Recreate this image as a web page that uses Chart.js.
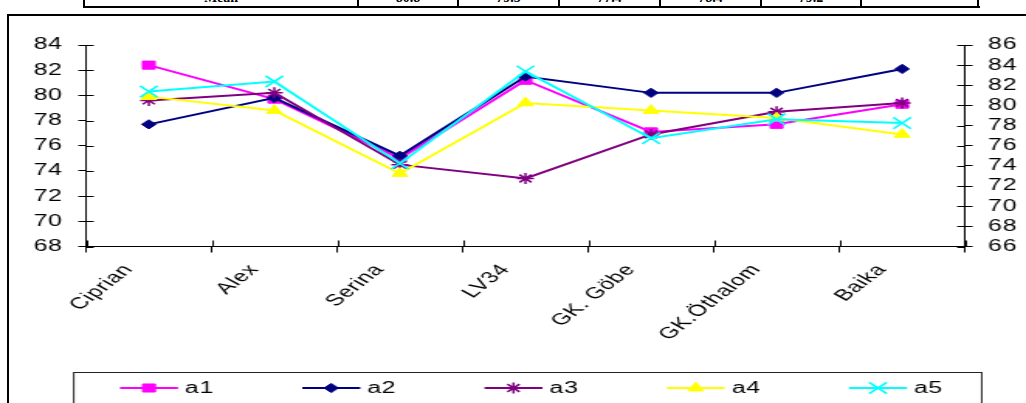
<!DOCTYPE html>
<html>
<head>
<meta charset="utf-8">
<script src="https://cdn.jsdelivr.net/npm/chart.js@4/dist/chart.umd.min.js"></script>
<style>
  html, body { margin: 0; padding: 0; background: #fff; width: 1026px; height: 403px; overflow: hidden; position: relative; }
  #stage { position: absolute; left: 0; top: 0; width: 662px; height: 403px; transform: scaleX(1.5498); transform-origin: 0 0; }
  #stage canvas { display: block; }
  .rule { position: absolute; background: #000; }
  .cell { position: absolute; top: -9px; font: bold 14px 'Liberation Serif', serif; line-height: 14px; text-align: center; white-space: nowrap; }
</style>
</head>
<body>
<div id="table"></div>
<div class="rule" style="left:7px;top:14px;width:2px;height:400px;"></div>
<div class="rule" style="left:7px;top:14px;width:1030px;height:2px;"></div>
<div id="stage"><canvas id="chart" width="662" height="403"></canvas></div>
<script>
// Varieties on the category axis
const categories = ['Ciprian', 'Alex', 'Serina', 'LV34', 'GK. Göbe', 'GK.Öthalom', 'Baika'];

// Series values
const a1 = [82.4, 79.7, 75.0, 81.2, 77.1, 77.7, 79.3];
const a2 = [77.7, 79.8, 75.2, 81.5, 80.2, 80.2, 82.1];
const a3 = [79.6, 80.2, 74.5, 73.4, 76.9, 78.7, 79.4];
const a4 = [79.9, 78.8, 73.8, 79.4, 78.8, 78.2, 76.9];
const a5 = [80.3, 81.1, 74.6, 81.9, 76.6, 78.1, 77.8];

// Axis ranges
const leftAxis = [68, 84, 2];
const rightAxis = [66, 86, 2];

// Summary row of the table above the chart
const meanLabel = 'Mean';
const meanValues = ['80.8', '79.5', '77.4', '78.4', '79.2', ''];

// ---- table strip ----
(function buildTable() {
  const host = document.getElementById('table');
  const edges = [84, 358, 458, 559, 660, 761, 861, 978];
  const add = (css, cls, text) => {
    const d = document.createElement('div');
    d.className = cls;
    d.style.cssText = css;
    if (text) d.textContent = text;
    host.appendChild(d);
  };
  add('left:83px;top:6px;width:897px;height:2px;', 'rule');
  edges.forEach(x => add(`left:${x - 1}px;top:0;width:2px;height:8px;`, 'rule'));
  const texts = [meanLabel].concat(meanValues);
  texts.forEach((t, i) => {
    const l = edges[i], r = edges[i + 1];
    add(`left:${l}px;width:${r - l}px;`, 'cell', t);
  });
})();

// ---- chart ----
const FONT = "'Liberation Sans', Arial, sans-serif";

// slightly looser letter spacing for all chart text
const textSpacing = {
  id: 'textSpacing',
  beforeInit(chart) { chart.ctx.letterSpacing = '0.5px'; },
  beforeDraw(chart) { chart.ctx.letterSpacing = '0.5px'; }
};

const crossTicks = {
  id: 'crossTicks',
  afterDraw(chart) {
    const { ctx, chartArea: a, scales } = chart;
    ctx.save();
    ctx.strokeStyle = '#000';
    ctx.lineWidth = 1;
    ctx.beginPath();
    scales.y.ticks.forEach((t, i) => {
      const y = Math.round(scales.y.getPixelForTick(i)) + 0.5;
      ctx.moveTo(a.left, y); ctx.lineTo(a.left + 5, y);
    });
    scales.y2.ticks.forEach((t, i) => {
      const y = Math.round(scales.y2.getPixelForTick(i)) + 0.5;
      ctx.moveTo(a.right - 5, y); ctx.lineTo(a.right, y);
    });
    for (let i = 0; i <= categories.length; i++) {
      const x = Math.round(scales.x.getPixelForValue(i - 0.5)) + 0.5;
      ctx.moveTo(x, a.bottom); ctx.lineTo(x, a.bottom - 6);
    }
    ctx.stroke();
    ctx.restore();
  }
};

const SX = 1026 / 662;
const boxLegend = {
  id: 'boxLegend',
  afterDraw(chart) {
    const { ctx } = chart;
    ctx.save();
    ctx.strokeStyle = '#222';
    ctx.lineWidth = 1;
    const left = 73 / SX, right = 981 / SX;
    ctx.strokeRect(left + 0.5, 372.5, right - left, 60);
    const y = 388;
    chart.data.datasets.forEach((ds, i) => {
      const x0 = (120 + i * 182.25) / SX;
      const x1 = x0 + 58 / SX;
      ctx.strokeStyle = ds.borderColor;
      ctx.lineWidth = ds.borderWidth;
      ctx.beginPath(); ctx.moveTo(x0, y); ctx.lineTo(x1, y); ctx.stroke();
      ctx.fillStyle = ds.pointBackgroundColor;
      ctx.strokeStyle = ds.pointBorderColor;
      ctx.lineWidth = ds.pointBorderWidth;
      Chart.helpers.drawPoint(ctx, { pointStyle: ds.pointStyle, radius: ds.pointRadius, rotation: 0, borderWidth: ds.pointBorderWidth }, (x0 + x1) / 2, y);
      ctx.fillStyle = '#000';
      ctx.font = `16px ${FONT}`;
      ctx.textAlign = 'left';
      ctx.textBaseline = 'middle';
      ctx.fillText(ds.label, x1 + 4.5, y + 1);
    });
    ctx.restore();
  }
};

function series(label, data, color, style, radius, bw, order) {
  return {
    label, data, order,
    borderColor: color, borderWidth: 2, tension: 0, fill: false,
    pointStyle: style, pointRadius: radius, pointHoverRadius: radius,
    pointBackgroundColor: color, pointBorderColor: color, pointBorderWidth: bw,
    yAxisID: 'y'
  };
}

new Chart(document.getElementById('chart'), {
  type: 'line',
  data: {
    labels: categories,
    datasets: [
      series('a1', a1, '#FF00FF', 'rect', 5.7, 1, 5),
      series('a2', a2, '#000080', 'rectRot', 4.6, 1, 4),
      series('a3', a3, '#800080', 'star', 5.5, 1.5, 3),
      series('a4', a4, '#FFFF00', 'triangle', 5.8, 1, 2),
      series('a5', a5, '#00FFFF', 'crossRot', 8, 1.6, 1)
    ]
  },
  options: {
    responsive: false,
    maintainAspectRatio: false,
    devicePixelRatio: 1,
    animation: false,
    events: [],
    layout: { padding: { top: 45, left: 0, right: 0, bottom: 0 } },
    plugins: { legend: { display: false }, tooltip: { enabled: false } },
    scales: {
      x: {
        type: 'category',
        offset: true,
        grid: { offset: true, drawOnChartArea: false, tickLength: 6, color: '#000' },
        border: { color: '#000', width: 1 },
        ticks: { autoSkip: false, maxRotation: 50, minRotation: 50, labelOffset: -13, padding: 8, color: '#000', font: { family: FONT, size: 16 } },
        afterFit: s => { s.height = 156.5; }
      },
      y: {
        position: 'left',
        min: leftAxis[0], max: leftAxis[1],
        grid: { drawOnChartArea: false, tickLength: 5, color: '#000' },
        border: { color: '#000', width: 1 },
        ticks: { stepSize: leftAxis[2], autoSkip: false, padding: 10, color: '#000', font: { family: FONT, size: 16 } },
        afterFit: s => { s.width = 55.5; }
      },
      y2: {
        position: 'right',
        min: rightAxis[0], max: rightAxis[1],
        grid: { drawOnChartArea: false, tickLength: 5, color: '#000' },
        border: { color: '#000', width: 1 },
        ticks: { stepSize: rightAxis[2], autoSkip: false, padding: 10, color: '#000', font: { family: FONT, size: 16 } },
        afterFit: s => { s.width = 39.4; }
      }
    }
  },
  plugins: [textSpacing, crossTicks, boxLegend]
});
</script>
</body>
</html>
